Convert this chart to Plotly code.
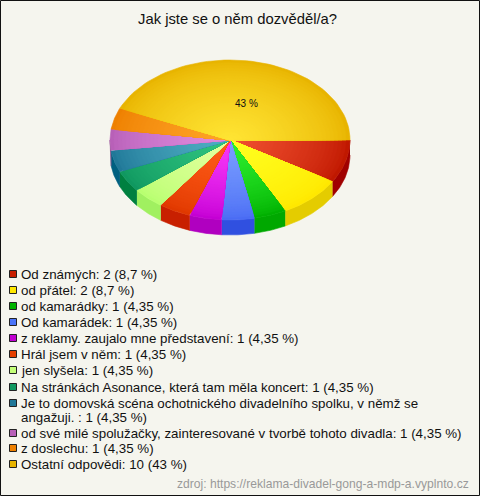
import numpy as np
import plotly.graph_objects as go

title = "Jak jste se o něm dozvěděl/a?"
source = "zdroj: https://reklama-divadel-gong-a-mdp-a.vyplnto.cz"
values = [2, 2, 1, 1, 1, 1, 1, 1, 1, 1, 1, 10]
legend_labels = [
    "Od známých: 2 (8,7 %)",
    "od přátel: 2 (8,7 %)",
    "od kamarádky: 1 (4,35 %)",
    "Od kamarádek: 1 (4,35 %)",
    "z reklamy. zaujalo mne představení: 1 (4,35 %)",
    "Hrál jsem v něm: 1 (4,35 %)",
    "jen slyšela: 1 (4,35 %)",
    "Na stránkách Asonance, která tam měla koncert: 1 (4,35 %)",
    "Je to domovská scéna ochotnického divadelního spolku, v němž se",
    "od své milé spolužačky, zainteresované v tvorbě tohoto divadla: 1 (4,35 %)",
    "z doslechu: 1 (4,35 %)",
    "Ostatní odpovědi: 10 (43 %)",
]
wrapped_line = "angažuji. : 1 (4,35 %)"
wrapped_row = 417
legend_colors = ["#c81e00", "#ffe800", "#00b400", "#4a74f8", "#c000d0", "#e64000",
                 "#c4ff78", "#109860", "#207898", "#b860b8", "#ee8000", "#e8b400"]
inner_colors = ["#f05030", "#ffff20", "#30f030", "#7a9eff", "#f838f8", "#ff5c18",
                "#e4ffa0", "#30c480", "#50b0c4", "#e08ce0", "#ffa428", "#ffe433"]
outer_colors = ["#c01800", "#ffe800", "#00b000", "#4a6cf4", "#c400d4", "#e03800",
                "#b8ff70", "#109860", "#207898", "#b860b8", "#ee8000", "#e8b400"]
side_colors = ["#a00000", "#e4cc00", "#00a800", "#3050e0", "#b000c0", "#c82000",
               "#a0f060", "#008040", "#006080", "#8a4a8a", "#c06000", "#b08000"]
legend_rows = [274, 290, 306, 322, 338, 354, 370, 387, 403, 433, 448, 464]
pie_label = "43 %"

CX, CY, RX, RY, DEPTH = 230, 140, 120, 80, 15
LAYERS = 30
BG = "#f5f5ee"


def rgb(h):
    return np.array([int(h[i:i + 2], 16) for i in (1, 3, 5)], float)


def mix(a, b, t):
    c = rgb(a) * (1 - t) + rgb(b) * t
    return "rgb(%d,%d,%d)" % tuple(c.round())


fractions = np.array(values, float) / sum(values)
edges = np.concatenate([[0], np.cumsum(fractions)]) * 2 * np.pi

fig = go.Figure()


def poly(xs, ys, color):
    fig.add_trace(go.Scatter(x=xs, y=ys, mode="lines", fill="toself", fillcolor=color,
                             line=dict(color=color, width=0.6), hoverinfo="skip", showlegend=False))


# side wall
for i in range(len(values)):
    a0, a1 = edges[i], min(edges[i + 1], np.pi)
    if a0 >= np.pi:
        continue
    t = np.linspace(a0, a1, 40)
    xs = CX + RX * np.cos(t)
    ys = CY + RY * np.sin(t)
    poly(np.r_[xs, xs[::-1]], np.r_[ys, ys[::-1] + DEPTH], side_colors[i])

# top face with radial shading
for i in range(len(values)):
    t = np.linspace(edges[i], edges[i + 1], 60)
    for k in range(LAYERS):
        f = 1 - k / LAYERS
        xs = np.r_[CX, CX + f * RX * np.cos(t), CX]
        ys = np.r_[CY, CY + f * RY * np.sin(t), CY]
        poly(xs, ys, mix(outer_colors[i], inner_colors[i], (k / (LAYERS - 1)) ** 0.7))

# legend swatches
fig.add_trace(go.Scatter(
    x=[13] * len(values), y=legend_rows, mode="markers", hoverinfo="skip", showlegend=False,
    marker=dict(symbol="square", size=7, color=legend_colors, line=dict(color="#222222", width=1))))

FONT = "Liberation Sans, Arial, sans-serif"
annotations = [
    dict(x=237, y=19, text=title, font=dict(size=14.8, color="#111111", family=FONT)),
    dict(x=246.5, y=103, text=pie_label, font=dict(size=10, color="#111111", family=FONT)),
    dict(x=470, y=484, text=source, xanchor="right", font=dict(size=12.1, color="#999999", family=FONT)),
]
for lab, row in list(zip(legend_labels, legend_rows)) + [(wrapped_line, wrapped_row)]:
    annotations.append(dict(x=20, y=row, text=lab, xanchor="left", align="left",
                            font=dict(size=13.33, color="#111111", family=FONT)))
for a in annotations:
    a.update(xref="x", yref="y", showarrow=False, borderpad=0, yanchor="middle")

fig.update_layout(
    width=480, height=496, margin=dict(l=0, r=0, t=0, b=0),
    paper_bgcolor=BG, plot_bgcolor=BG, showlegend=False, annotations=annotations,
    xaxis=dict(range=[0, 480], visible=False, fixedrange=True),
    yaxis=dict(range=[496, 0], visible=False, fixedrange=True),
    shapes=[dict(type="rect", xref="x", yref="y", x0=0.5, x1=479.5, y0=0.5, y1=495.5,
                 line=dict(color="#111111", width=1), fillcolor="rgba(0,0,0,0)")],
)
fig.write_html("out.html", config=dict(displayModeBar=False),
               post_script="document.body.style.margin='0';document.documentElement.style.overflow='hidden';")
